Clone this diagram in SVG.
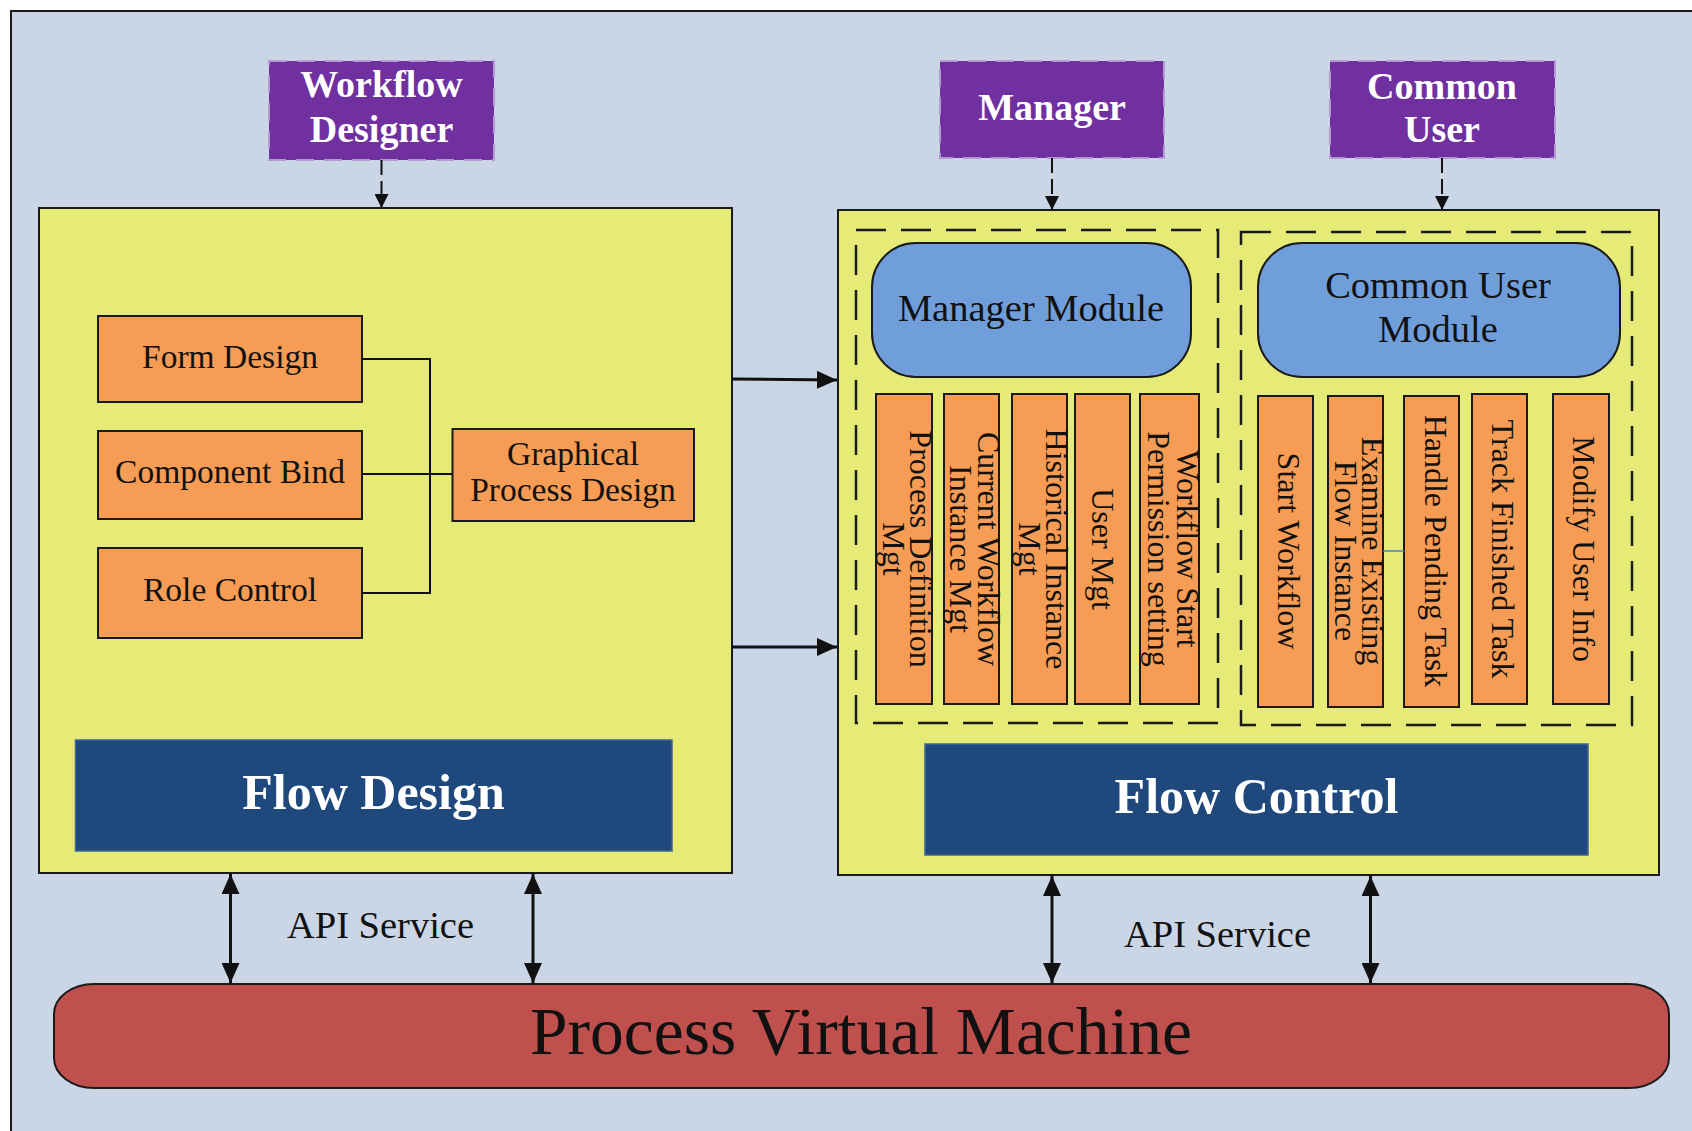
<svg xmlns="http://www.w3.org/2000/svg" width="1692" height="1131" viewBox="0 0 1692 1131">
  <defs>
    <style>
      .frame { fill: #CAD6E6; stroke: #1a1a1a; stroke-width: 2; }
      .actor { fill: #7030A0; stroke: #B49AD2; stroke-width: 2; stroke-dasharray: 18 10; }
      .actor-t { font-family: "Liberation Serif", "Times New Roman", serif; font-weight: bold; font-size: 38px; fill: #ffffff; text-anchor: middle; }
      .panel { fill: #E5EB76; stroke: #1a1a1a; stroke-width: 2; }
      .group { fill: none; stroke: #1a1a1a; stroke-width: 2.5; stroke-dasharray: 30 15; }
      .org { fill: #F69C55; stroke: #1a1a1a; stroke-width: 2; }
      .module { fill: #6F9EDA; stroke: #1a1a1a; stroke-width: 2; }
      .core { fill: #1F487C; stroke: #3E6596; stroke-width: 1.5; }
      .core-t { font-family: "Liberation Serif", "Times New Roman", serif; font-weight: bold; font-size: 50px; fill: #ffffff; text-anchor: middle; }
      .pvm { fill: #C0504D; stroke: #1a1a1a; stroke-width: 2; }
      .t { font-family: "Liberation Serif", "Times New Roman", serif; fill: #111111; text-anchor: middle; }
      .t33 { font-size: 33.5px; }
      .t38 { font-size: 38.5px; }
      .vt { font-family: "Liberation Serif", "Times New Roman", serif; font-size: 32px; fill: #111111; text-anchor: middle; }
      .wire { fill: none; stroke: #111111; stroke-width: 2; }
      .dash-arrow { fill: none; stroke: #111111; stroke-width: 2; stroke-dasharray: 15 6; marker-end: url(#headSmall); }
      .arrow { fill: none; stroke: #111111; stroke-width: 3; marker-end: url(#headBig); }
      .dbl { fill: none; stroke: #111111; stroke-width: 3; marker-start: url(#headBig); marker-end: url(#headBig); }
    </style>
    <marker id="headSmall" markerUnits="userSpaceOnUse" markerWidth="14" markerHeight="14" viewBox="0 0 14 14" refX="14" refY="7" orient="auto">
      <path d="M0,0 L14,7 L0,14 z" fill="#111111"/>
    </marker>
    <marker id="headBig" markerUnits="userSpaceOnUse" markerWidth="20" markerHeight="18" viewBox="0 0 20 18" refX="20" refY="9" orient="auto-start-reverse">
      <path d="M0,0 L20,9 L0,18 z" fill="#111111"/>
    </marker>
  </defs>

  <!-- page frame -->
  <rect class="frame" x="11" y="11" width="1700" height="1140"/>

  <!-- actors -->
  <g id="actor-workflow-designer">
    <rect class="actor" x="269" y="61" width="225" height="99"/>
    <text class="actor-t" x="381.5" y="97">Workflow</text>
    <text class="actor-t" x="381.5" y="142">Designer</text>
  </g>
  <g id="actor-manager">
    <rect class="actor" x="940" y="61" width="224" height="97"/>
    <text class="actor-t" x="1052" y="120">Manager</text>
  </g>
  <g id="actor-common-user">
    <rect class="actor" x="1330" y="61" width="225" height="97"/>
    <text class="actor-t" x="1442" y="99">Common</text>
    <text class="actor-t" x="1442" y="142">User</text>
  </g>

  <!-- flow design panel -->
  <g id="panel-flow-design">
    <rect class="panel" x="39" y="208" width="693" height="665"/>
  </g>
  <g id="n-form-design">
    <rect class="org" x="98" y="316" width="264" height="86"/>
    <text class="t t33" x="230" y="368">Form Design</text>
  </g>
  <g id="n-component-bind">
    <rect class="org" x="98" y="431" width="264" height="88"/>
    <text class="t t33" x="230" y="483">Component Bind</text>
  </g>
  <g id="n-role-control">
    <rect class="org" x="98" y="548" width="264" height="90"/>
    <text class="t t33" x="230" y="601">Role Control</text>
  </g>
  <g id="n-graphical-process-design">
    <rect class="org" x="452.5" y="429" width="241.5" height="92"/>
    <text class="t t33" x="573" y="465">Graphical</text>
    <text class="t t33" x="573" y="501">Process Design</text>
  </g>
  <g id="n-flow-design">
    <rect class="core" x="75.5" y="740" width="596.5" height="111"/>
    <text class="core-t" x="373.5" y="809">Flow Design</text>
  </g>

  <!-- flow control panel -->
  <g id="panel-flow-control">
    <rect class="panel" x="838" y="210" width="821" height="665"/>
    <rect class="group" x="856" y="230" width="362" height="493"/>
    <rect class="group" x="1241" y="232" width="391" height="493"/>
  </g>
  <g id="n-manager-module">
    <rect class="module" x="872" y="243" width="319" height="134" rx="44" ry="44"/>
    <text class="t t38" x="1031" y="321">Manager Module</text>
  </g>
  <g id="n-common-user-module">
    <rect class="module" x="1258" y="243" width="362" height="134" rx="44" ry="44"/>
    <text class="t t38" x="1438" y="298">Common User</text>
    <text class="t t38" x="1438" y="342">Module</text>
  </g>

  <!-- manager functions -->
  <g id="n-process-definition-mgt">
    <rect class="org" x="876" y="394" width="56" height="310"/>
    <g transform="translate(904,549) rotate(90)">
      <text class="vt" y="-6">Process Definition</text>
      <text class="vt" y="21">Mgt</text>
    </g>
  </g>
  <g id="n-current-workflow-instance-mgt">
    <rect class="org" x="944" y="394" width="55" height="310"/>
    <g transform="translate(971.5,549) rotate(90)">
      <text class="vt" y="-6">Current Workflow</text>
      <text class="vt" y="22">Instance Mgt</text>
    </g>
  </g>
  <g id="n-historical-instance-mgt">
    <rect class="org" x="1012" y="394" width="55" height="310"/>
    <g transform="translate(1039.5,549) rotate(90)">
      <text class="vt" y="-6">Historical Instance</text>
      <text class="vt" y="21">Mgt</text>
    </g>
  </g>
  <g id="n-user-mgt">
    <rect class="org" x="1075" y="394" width="55" height="310"/>
    <g transform="translate(1102.5,549) rotate(90)">
      <text class="vt" y="11">User Mgt</text>
    </g>
  </g>
  <g id="n-workflow-start-permission">
    <rect class="org" x="1140" y="394" width="59" height="310"/>
    <g transform="translate(1169.5,549) rotate(90)">
      <text class="vt" y="-7">Workflow Start</text>
      <text class="vt" y="22">Permission setting</text>
    </g>
  </g>

  <!-- common user functions -->
  <g id="n-start-workflow">
    <rect class="org" x="1258" y="396" width="55" height="311"/>
    <g transform="translate(1285.5,551) rotate(90)">
      <text class="vt" y="8">Start Workflow</text>
    </g>
  </g>
  <g id="n-examine-existing-flow">
    <rect class="org" x="1328" y="396" width="55" height="311"/>
    <g transform="translate(1355.5,551) rotate(90)">
      <text class="vt" y="-6.5">Examine Existing</text>
      <text class="vt" y="20.5">Flow Instance</text>
    </g>
  </g>
  <g id="n-handle-pending-task">
    <rect class="org" x="1404" y="396" width="55" height="311"/>
    <g transform="translate(1431.5,551) rotate(90)">
      <text class="vt" y="7">Handle Pending Task</text>
    </g>
  </g>
  <g id="n-track-finished-task">
    <rect class="org" x="1472" y="394" width="55" height="310"/>
    <g transform="translate(1499.5,549) rotate(90)">
      <text class="vt" y="8">Track Finished Task</text>
    </g>
  </g>
  <g id="n-modify-user-info">
    <rect class="org" x="1553" y="394" width="56" height="310"/>
    <g transform="translate(1581,549) rotate(90)">
      <text class="vt" y="8">Modify User Info</text>
    </g>
  </g>
  <g id="n-flow-control">
    <rect class="core" x="925" y="744" width="663" height="111"/>
    <text class="core-t" x="1256.5" y="813">Flow Control</text>
  </g>

  <!-- engine -->
  <g id="n-process-virtual-machine">
    <rect class="pvm" x="54" y="984" width="1615" height="104" rx="40" ry="30"/>
    <text class="t" x="861" y="1054" font-size="67.5">Process Virtual Machine</text>
  </g>

  <!-- connectors -->
  <g id="connectors">
    <line class="dash-arrow" x1="381.5" y1="160" x2="381.5" y2="208"/>
    <line class="dash-arrow" x1="1052" y1="158" x2="1052" y2="210"/>
    <line class="dash-arrow" x1="1442" y1="158" x2="1442" y2="210"/>

    <path class="wire" d="M362,359 H430 V593 H362 M362,474 H452.5"/>
    <line x1="1383" y1="551" x2="1404" y2="551" stroke="#4A7BC8" stroke-width="1.5"/>

    <line class="arrow" x1="732" y1="379" x2="837" y2="380"/>
    <line class="arrow" x1="732" y1="647" x2="837" y2="647"/>

    <line class="dbl" x1="230.5" y1="874" x2="230.5" y2="983"/>
    <line class="dbl" x1="533" y1="874" x2="533" y2="983"/>
    <line class="dbl" x1="1052" y1="876" x2="1052" y2="983"/>
    <line class="dbl" x1="1370.5" y1="876" x2="1370.5" y2="983"/>

    <text class="t t38" x="380.5" y="938">API Service</text>
    <text class="t t38" x="1217.5" y="947">API Service</text>
  </g>
</svg>
